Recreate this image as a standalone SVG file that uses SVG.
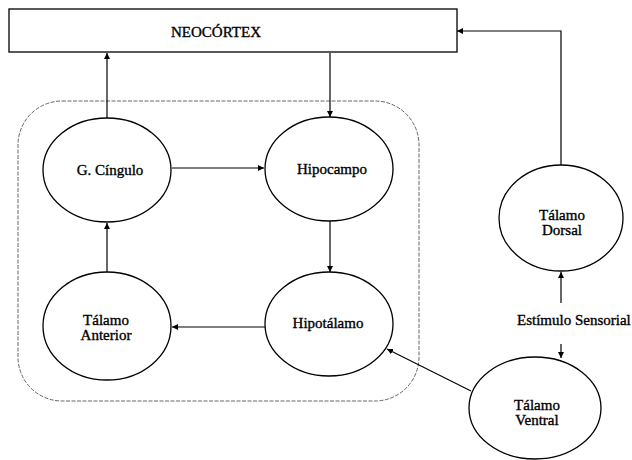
<svg xmlns="http://www.w3.org/2000/svg" width="632" height="460" viewBox="0 0 632 460">
<style>
.n{fill:#fff;stroke:#000;stroke-width:1.3}
.t{font-family:"Liberation Serif","Times New Roman",serif;font-size:15px;fill:#000;stroke:#000;stroke-width:0.35;text-anchor:middle}
.c{fill:none;stroke:#000;stroke-width:1.2}
</style>
<defs>
<marker id="a" viewBox="0 0 10 10" refX="10" refY="5" markerWidth="6" markerHeight="6" markerUnits="userSpaceOnUse" orient="auto">
<path d="M0,0 L10,5 L0,10 z" fill="#000"/>
</marker>
</defs>
<rect width="632" height="460" fill="#fff"/>
<rect id="grupo" x="18" y="101" width="401" height="300" rx="44" ry="44" fill="none" stroke="#555" stroke-width="0.9" stroke-dasharray="4 1.5"/>
<g id="connectors">
<line class="c" x1="107" y1="118" x2="107" y2="53" marker-end="url(#a)"/>
<line class="c" x1="330" y1="53" x2="330" y2="117" marker-end="url(#a)"/>
<line class="c" x1="172" y1="168" x2="264" y2="168" marker-end="url(#a)"/>
<line class="c" x1="330" y1="221" x2="330" y2="272" marker-end="url(#a)"/>
<line class="c" x1="265" y1="327" x2="172" y2="327" marker-end="url(#a)"/>
<line class="c" x1="107" y1="272" x2="107" y2="223" marker-end="url(#a)"/>
<path class="c" d="M561,165 V31 H457" marker-end="url(#a)"/>
<line class="c" x1="561" y1="303" x2="561" y2="272" marker-end="url(#a)"/>
<line class="c" x1="561" y1="344" x2="561" y2="358" marker-end="url(#a)"/>
<line class="c" x1="471" y1="391" x2="387" y2="349" marker-end="url(#a)"/>
</g>
<g id="neocortex">
<rect class="n" x="9" y="9" width="448" height="43"/>
<text class="t" x="216" y="37">NEOCÓRTEX</text>
</g>
<g id="cingulo">
<ellipse class="n" cx="107" cy="170" rx="64" ry="52"/>
<text class="t" x="110" y="175">G. Cíngulo</text>
</g>
<g id="hipocampo">
<ellipse class="n" cx="329" cy="169" rx="64" ry="52"/>
<text class="t" x="332" y="174">Hipocampo</text>
</g>
<g id="talamo-anterior">
<ellipse class="n" cx="107" cy="326" rx="64" ry="54"/>
<text class="t" x="106" y="325">Tálamo</text>
<text class="t" x="106" y="340">Anterior</text>
</g>
<g id="hipotalamo">
<ellipse class="n" cx="329" cy="324" rx="64" ry="52"/>
<text class="t" x="328" y="328">Hipotálamo</text>
</g>
<g id="talamo-dorsal">
<ellipse class="n" cx="561" cy="218" rx="62" ry="53"/>
<text class="t" x="562" y="220">Tálamo</text>
<text class="t" x="562" y="235">Dorsal</text>
</g>
<g id="estimulo">
<text class="t" x="517" y="325" style="text-anchor:start">Estímulo Sensorial</text>
</g>
<g id="talamo-ventral">
<ellipse class="n" cx="535" cy="408" rx="66" ry="51"/>
<text class="t" x="537" y="410">Tálamo</text>
<text class="t" x="537" y="425">Ventral</text>
</g>
</svg>
